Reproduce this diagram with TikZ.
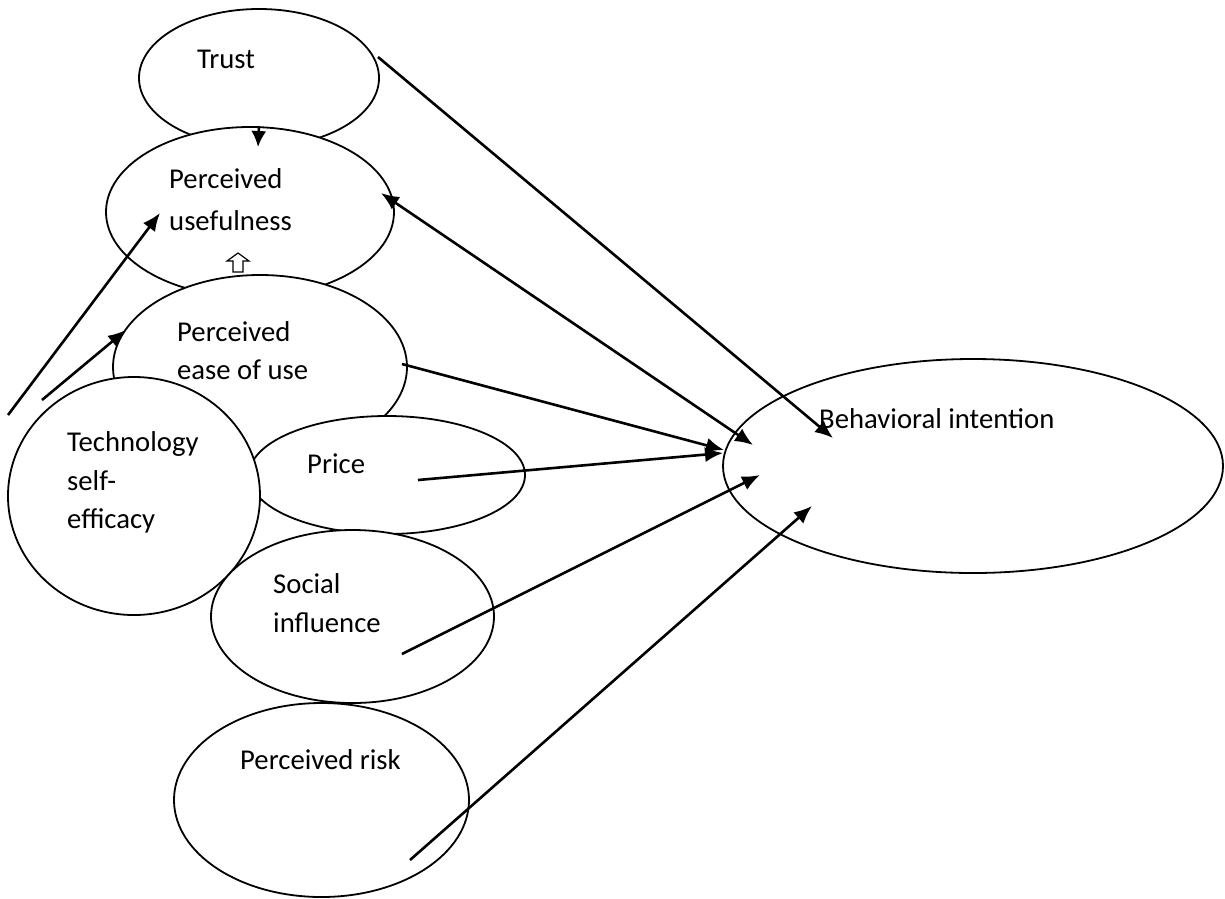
\documentclass[tikz,border=0pt]{standalone}
\usepackage{fontspec}
\setmainfont{Carlito}
\usetikzlibrary{shapes.geometric,arrows.meta}
\begin{document}
\begin{tikzpicture}[x=1pt,y=-1pt,
  oval/.style={ellipse,draw,line width=1.8pt,fill=white,inner sep=0pt},
  lbl/.style={anchor=base west,inner sep=0pt,font=\fontsize{28.7}{34}\selectfont},
  conn/.style={line width=2.6pt,-{Latex[length=18pt,width=15pt]}},
  biconn/.style={line width=2.6pt,{Latex[length=18pt,width=15pt]}-{Latex[length=18pt,width=15pt]}},
]
\useasboundingbox[fill=white] (0,0) rectangle (1225,898);

% ellipses (drawing order gives the overlaps)
\node[oval,minimum width=240pt,minimum height=138pt] (trust) at (259,78) {};
\node[oval,minimum width=288pt,minimum height=170pt] (pu) at (250,212) {};
\node[oval,minimum width=294pt,minimum height=184pt] (peou) at (260,367) {};
\node[oval,minimum width=276pt,minimum height=118pt] (price) at (387,475) {};
\node[oval,minimum width=252pt,minimum height=238pt] (tse) at (134,496) {};
\node[oval,minimum width=283pt,minimum height=173pt] (si) at (352.5,616.5) {};
\node[oval,minimum width=295pt,minimum height=194pt] (pr) at (321.5,800) {};
\node[oval,minimum width=500pt,minimum height=214pt] (bi) at (973,466) {};

% labels
\node[lbl] (trustlbl) at (197,68) {Trust};
\node[lbl] (pua) at (169,188) {Perceived};
\node[lbl] (pub) at (169,230) {usefulness};
\node[lbl] (peoua) at (177,341) {Perceived};
\node[lbl] (peoub) at (177,379) {ease of use};
\node[lbl] (tsea) at (67,451) {Technology};
\node[lbl] (tseb) at (67,490) {self-};
\node[lbl] (tsec) at (67,528) {efficacy};
\node[lbl] (pricelbl) at (307,473) {Price};
\node[lbl] (sia) at (273,593) {Social};
\node[lbl] (sib) at (273,632) {influence};
\node[lbl] (prlbl) at (240,769) {Perceived risk};
\node[lbl] (bilbl) at (819,428) {Behavioral intention};

% hollow up arrow between ease of use and usefulness
\draw[line width=1.2pt,line join=miter] (238,253) -- (249,261) -- (243,261) -- (243,272)
  -- (233,272) -- (233,261) -- (227,261) -- cycle;

% connector end points
\coordinate (trustout) at (378,57);
\coordinate (biin1) at (833,438);
\coordinate (puend) at (381,193);
\coordinate (biin2) at (753,445);
\coordinate (peouout) at (402,364);
\coordinate (biin3) at (724,450);
\coordinate (priceout) at (418,480);
\coordinate (biin4) at (723,453);
\coordinate (siout) at (402,654);
\coordinate (biin5) at (760,475);
\coordinate (prout) at (410,860);
\coordinate (biin6) at (812,506);
\coordinate (trustdown) at (259,126);
\coordinate (puin1) at (258,147);
\coordinate (tseout1) at (8,415);
\coordinate (puin2) at (160,213);
\coordinate (tseout2) at (42,400);
\coordinate (peouin) at (126,330);

% connectors
\draw[conn] (trustout) -- (biin1);
\draw[biconn] (puend) -- (biin2);
\draw[conn] (peouout) -- (biin3);
\draw[conn] (priceout) -- (biin4);
\draw[conn] (siout) -- (biin5);
\draw[conn] (prout) -- (biin6);
\draw[line width=2.4pt,-{Latex[length=16pt,width=15pt]}] (trustdown) -- (puin1);
\draw[conn] (tseout1) -- (puin2);
\draw[conn] (tseout2) -- (peouin);
\end{tikzpicture}
\end{document}
